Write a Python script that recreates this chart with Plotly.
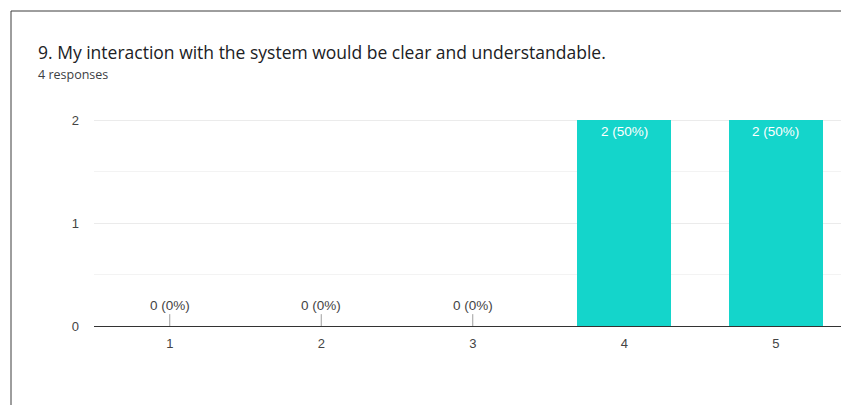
import plotly.graph_objects as go

# Survey question results
categories = [1, 2, 3, 4, 5]
counts = [0, 0, 0, 2, 2]
total_responses = 4
title_text = "9. My interaction with the system would be clear and understandable."
subtitle_text = f"{total_responses} responses"
y_ticks = [0, 1, 2]

bar_color = "#14d5cb"
W, H = 841, 405
plot_left, plot_right, plot_top, plot_bottom = 94, 841, 119, 326
y_max = 2.01

labels = [f"{c} ({round(100 * c / total_responses)}%)" for c in counts]
label_font = "Liberation Sans, Arial"

fig = go.Figure()
fig.add_trace(go.Bar(
    x=categories, y=counts, width=0.62,
    marker=dict(color=bar_color, line=dict(width=0)),
    hoverinfo="skip",
))

annotations = []
shapes = []
for cat, val, lab in zip(categories, counts, labels):
    if val > 0:
        # value label inside the top of the bar
        annotations.append(dict(
            x=cat, y=val, xref="x", yref="y", text=lab, showarrow=False,
            yanchor="top", yshift=-2,
            font=dict(family=label_font, size=13.5, color="#ffffff"),
        ))
    else:
        # short stem with the label above it for empty categories
        shapes.append(dict(
            type="line", xref="x", yref="y", x0=cat, x1=cat, y0=val, y1=val + 0.115,
            line=dict(color="#9e9e9e", width=1),
        ))
        annotations.append(dict(
            x=cat, y=val + 0.115, xref="x", yref="y", text=lab, showarrow=False,
            yanchor="bottom", yshift=-1,
            font=dict(family=label_font, size=13.5, color="#444444"),
        ))

pw = plot_right - plot_left
ph = plot_bottom - plot_top


def px_x(p):
    return (p - plot_left) / pw


def px_y(p):
    return (plot_bottom - p) / ph


# card frame (top and left edges)
shapes.append(dict(type="line", xref="paper", yref="paper",
                   x0=px_x(11), x1=px_x(841), y0=px_y(11), y1=px_y(11),
                   line=dict(color="#3c3c3c", width=1)))
shapes.append(dict(type="line", xref="paper", yref="paper",
                   x0=px_x(11), x1=px_x(11), y0=px_y(11), y1=px_y(405),
                   line=dict(color="#3c3c3c", width=1)))

annotations.append(dict(
    x=px_x(36), y=px_y(52), xref="paper", yref="paper", text=title_text,
    showarrow=False, xanchor="left", yanchor="middle",
    font=dict(family="Open Sans", size=17.5, color="#202124"),
))
annotations.append(dict(
    x=px_x(36), y=px_y(75), xref="paper", yref="paper", text=subtitle_text,
    showarrow=False, xanchor="left", yanchor="middle",
    font=dict(family="Open Sans", size=12.5, color="#3c4043"),
))

fig.update_layout(
    width=W, height=H,
    margin=dict(l=plot_left, r=W - plot_right, t=plot_top, b=H - plot_bottom, pad=0),
    paper_bgcolor="white", plot_bgcolor="white",
    showlegend=False,
    shapes=shapes, annotations=annotations,
    bargap=0,
    xaxis=dict(
        range=[0.5, 0.5 + pw / 151.5], tickvals=categories,
        ticktext=[str(c) for c in categories],
        showgrid=False, zeroline=False, showline=False, ticks="",
        ticklabelstandoff=8,
        tickfont=dict(family=label_font, size=13, color="#444444"),
        fixedrange=True,
    ),
    yaxis=dict(
        range=[0, y_max], tickvals=y_ticks, ticktext=[str(t) for t in y_ticks],
        showgrid=True, gridcolor="#ebebeb", gridwidth=1,
        minor=dict(dtick=0.5, showgrid=True, gridcolor="#f3f3f3"),
        zeroline=True, zerolinecolor="#333333", zerolinewidth=1,
        showline=False, ticks="", ticklabelstandoff=14,
        tickfont=dict(family=label_font, size=13, color="#444444"),
        fixedrange=True,
    ),
)

fig.write_html("out.html", config={"displayModeBar": False})
